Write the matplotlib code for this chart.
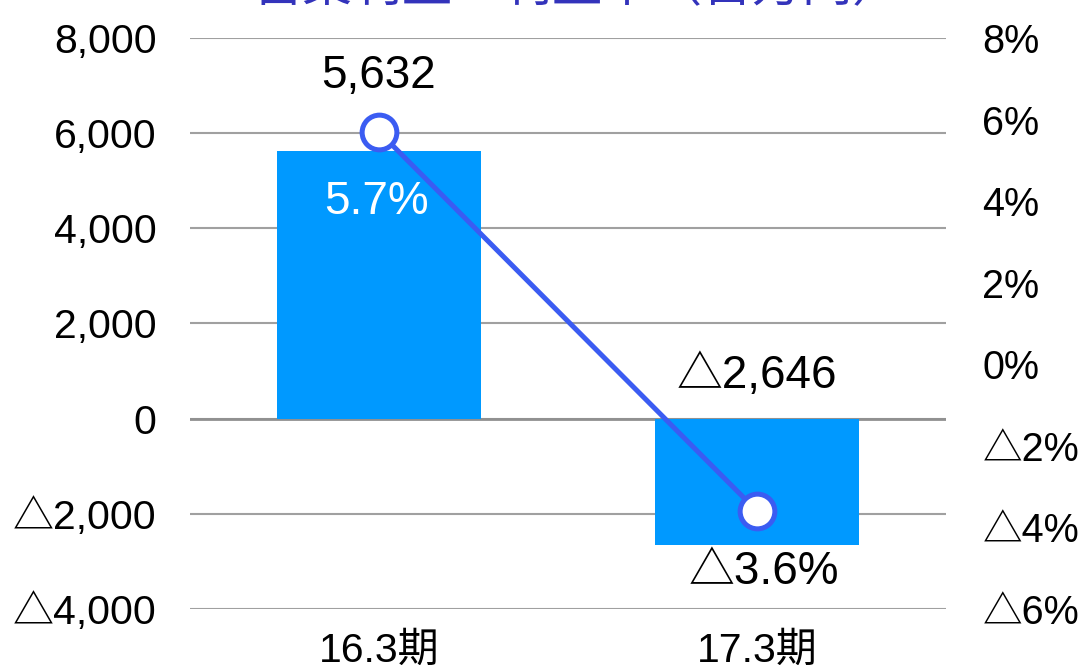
import matplotlib.pyplot as plt

periods = ['16.3期', '17.3期']
op_income = [5632, -2646]          # 百万円
op_margin = [0.057, -0.036]        # 利益率
income_labels = ['5,632', '△2,646']
margin_labels = ['5.7%', '△3.6%']
left_ticks = [-4000, -2000, 0, 2000, 4000, 6000, 8000]
left_ticklabels = ['△4,000', '△2,000', '0', '2,000', '4,000', '6,000', '8,000']
right_ticks = [-0.06, -0.04, -0.02, 0.0, 0.02, 0.04, 0.06, 0.08]
right_ticklabels = ['△6%', '△4%', '△2%', '0%', '2%', '4%', '6%', '8%']

plt.rcParams['font.family'] = ['Liberation Sans', 'Noto Sans CJK JP', 'DejaVu Sans']

BAR = '#0099ff'
LINE = '#3b5cf2'
TICK_FS = 29.5
LABEL_FS = 33

fig = plt.figure(figsize=(10.79, 6.65), dpi=100)
ax = fig.add_axes([0.176, 0.0842, 0.701, 0.8587])
x = list(range(len(periods)))

ax.set_axisbelow(True)
ax.bar(x, op_income, width=0.54, color=BAR, zorder=2)
ax.set_xlim(-0.5, 1.5)
ax.set_ylim(-4000, 8000)
ax.set_yticks(left_ticks)
ax.set_yticklabels(left_ticklabels)
ax.set_xticks(x)
ax.set_xticklabels(periods)
ax.grid(axis='y', color='#a0a0a0', linewidth=1.5)
ax.axhline(0, color='#909090', linewidth=2, zorder=1)
ax.tick_params(axis='y', length=0, labelsize=TICK_FS, pad=24)
ax.tick_params(axis='x', length=0, labelsize=TICK_FS, pad=16)
for s in ax.spines.values():
    s.set_visible(False)

# operating income label for the negative bar sits just above the zero line
ax.annotate(income_labels[1], (x[1], 0), xytext=(0, 43), textcoords='offset pixels',
            ha='center', va='center', fontsize=LABEL_FS, color='black', zorder=5)

ax2 = ax.twinx()
ax2.set_ylim(-0.06, 0.08)
ax2.set_yticks(right_ticks)
ax2.set_yticklabels(right_ticklabels)
ax2.tick_params(axis='y', length=0, labelsize=28.5, pad=26)
for s in ax2.spines.values():
    s.set_visible(False)
ax2.plot(x, op_margin, color=LINE, linewidth=3.6, marker='o', markersize=25,
         markerfacecolor='white', markeredgecolor=LINE, markeredgewidth=3.6, zorder=3)

ax2.annotate(income_labels[0], (x[0], op_margin[0]), xytext=(0, 56), textcoords='offset pixels',
             ha='center', va='center', fontsize=LABEL_FS, color='black')
ax2.annotate(margin_labels[0], (x[0], op_margin[0]), xytext=(-2, -70), textcoords='offset pixels',
             ha='center', va='center', fontsize=LABEL_FS, color='white')
ax2.annotate(margin_labels[1], (x[1], op_margin[1]), xytext=(7, -61), textcoords='offset pixels',
             ha='center', va='center', fontsize=LABEL_FS, color='black')

fig.text(0.535, 0.9985, '営業利益・利益率（百万円）', ha='center', va='baseline',
         fontsize=36, color='#3333bb', family=['Noto Sans CJK JP', 'DejaVu Sans'])

fig.savefig('out.png', dpi=100)
